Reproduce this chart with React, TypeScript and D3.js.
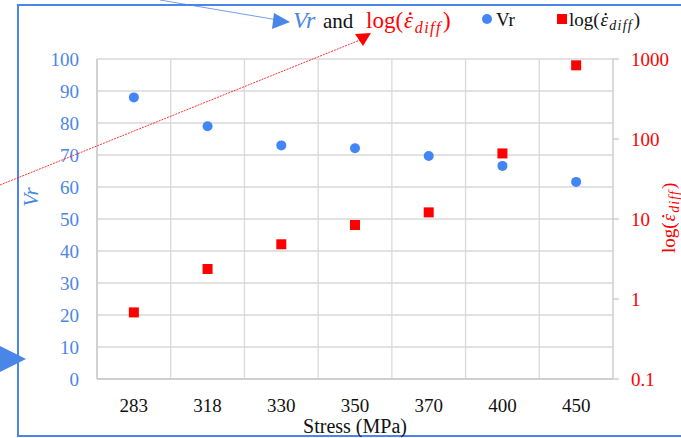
import React from "react";
import * as d3 from "d3";

const categories = ["283", "318", "330", "350", "370", "400", "450"];
const vrValues = [88, 79, 73, 72.1, 69.7, 66.6, 61.6];
const strainRates = [0.68, 2.37, 4.83, 8.41, 12.1, 66, 834];
const leftTicks = [0, 10, 20, 30, 40, 50, 60, 70, 80, 90, 100];
const rightTicks = [0.1, 1, 10, 100, 1000];

const W = 681;
const H = 438;
const plot = { left: 97, right: 613, top: 59, bottom: 379 };
const BLUE = "#4a86e8";
const MARK_BLUE = "#4285f4";
const RED = "#ff0000";
const GRID = "#d9d9d9";
const FONT = "Liberation Serif";

// log(ε̇_diff) drawn with explicit piece positions (local coords, baseline at y=0)
function LogEps({ size, sub, gap, fill }: { size: number; sub: number; gap: number; fill: string }) {
  const logW = size * 1.611;
  const epsX = logW + 1;
  const subX = epsX + size * 0.46;
  const subW = sub * 1.334 + gap * 4;
  const closeX = subX + subW + 1;
  return (
    <g>
      <text fontFamily={FONT} fontSize={size} fill={fill}>
        <tspan x={0} y={0}>log(</tspan>
        <tspan x={epsX} y={0} fontStyle="italic">ε</tspan>
        <tspan x={subX} y={sub * 0.3} fontStyle="italic" fontSize={sub} letterSpacing={gap}>diff</tspan>
        <tspan x={closeX} y={0}>)</tspan>
      </text>
      <circle cx={epsX + size * 0.27} cy={-size * 0.62} r={size * 0.06} fill={fill} />
    </g>
  );
}

export default function App() {
  const x = d3.scaleBand<string>().domain(categories).range([plot.left, plot.right]).padding(0);
  const yL = d3.scaleLinear().domain([0, 100]).range([plot.bottom, plot.top]);
  const yR = d3.scaleLog().domain([0.1, 1000]).range([plot.bottom, plot.top]);
  const bw = x.bandwidth();

  return (
    <svg width={W} height={H} fontFamily={FONT} style={{ position: "absolute", left: 0, top: 0 }}>
      <rect x={0} y={0} width={W} height={H} fill="#fff" />
      <rect x={18} y={5} width={W + 10} height={431} fill="none" stroke={BLUE} strokeWidth={2} />

      {leftTicks.map((t) => (
        <line key={"h" + t} x1={plot.left} x2={plot.right} y1={yL(t)} y2={yL(t)} stroke={GRID} strokeWidth={1.3} />
      ))}
      {categories.map((c) => (
        <line key={"v" + c} x1={x(c)!} x2={x(c)!} y1={plot.top} y2={plot.bottom} stroke={GRID} strokeWidth={1.3} />
      ))}
      <line x1={plot.left} x2={plot.left} y1={plot.top} y2={plot.bottom} stroke="#c8c8c8" strokeWidth={1.3} />
      <line x1={plot.left} x2={plot.right} y1={plot.bottom} y2={plot.bottom} stroke="#c8c8c8" strokeWidth={1.3} />
      <line x1={plot.right} x2={plot.right} y1={plot.top} y2={plot.bottom} stroke="#c8c8c8" strokeWidth={1.3} />
      {rightTicks.map((t) => (
        <line key={"rt" + t} x1={plot.right} x2={plot.right + 6} y1={yR(t)} y2={yR(t)} stroke="#c8c8c8" strokeWidth={1.3} />
      ))}

      {leftTicks.map((t) => (
        <text key={"lt" + t} fontFamily={FONT} x={79} y={yL(t)} dy="0.35em" textAnchor="end" fontSize={19} fill={BLUE}>
          {t}
        </text>
      ))}
      {rightTicks.map((t) => (
        <text key={"rl" + t} fontFamily={FONT} x={631} y={yR(t)} dy="0.35em" textAnchor="start" fontSize={19} fill={RED}>
          {t}
        </text>
      ))}
      {categories.map((c) => (
        <text key={"xl" + c} fontFamily={FONT} x={x(c)! + bw / 2} y={412} textAnchor="middle" fontSize={19} fill="#111">
          {c}
        </text>
      ))}
      <text fontFamily={FONT} x={(plot.left + plot.right) / 2} y={433} textAnchor="middle" fontSize={20} fill="#111">
        Stress (MPa)
      </text>

      <text fontFamily={FONT} transform="translate(38,197) rotate(-90)" textAnchor="middle" fontSize={21} fontStyle="italic" fill={BLUE}>
        Vr
      </text>
      <g transform="translate(675,253) rotate(-90)">
        <LogEps size={19} sub={14} gap={1} fill={RED} />
      </g>

      {vrValues.map((v, i) => (
        <circle key={"c" + i} cx={x(categories[i])! + bw / 2} cy={yL(v)} r={5} fill={MARK_BLUE} />
      ))}
      {strainRates.map((v, i) => (
        <rect key={"s" + i} x={x(categories[i])! + bw / 2 - 5} y={yR(v) - 5} width={10} height={10} fill={RED} />
      ))}

      {/* title */}
      <text fontFamily={FONT} y={28} fontSize={21} fill="#111">
        <tspan x={293} fontStyle="italic" fontSize={24} fill={BLUE}>Vr</tspan>
        <tspan x={323}>and</tspan>
      </text>
      <g transform="translate(366,28)">
        <LogEps size={23} sub={16} gap={1.5} fill={RED} />
      </g>

      {/* legend */}
      <circle cx={487} cy={19} r={5} fill={MARK_BLUE} />
      <text fontFamily={FONT} x={496} y={26} fontSize={19} fill="#111">Vr</text>
      <rect x={557} y={14} width={10} height={10} fill={RED} />
      <g transform="translate(569,26)">
        <LogEps size={19} sub={14} gap={1.2} fill="#111" />
      </g>

      {/* annotation arrows */}
      <line x1={160} y1={0} x2={278} y2={20} stroke={BLUE} strokeWidth={0.8} />
      <polygon points="290,22 274,13 272,29" fill={BLUE} />
      <line x1={0} y1={185} x2={360} y2={40} stroke={RED} strokeWidth={0.8} strokeDasharray="2,1" />
      <polygon points="371,33 355,34 363,46" fill={RED} />
      <polygon points="26,359 -4,344 -4,374" fill={BLUE} />
    </svg>
  );
}
